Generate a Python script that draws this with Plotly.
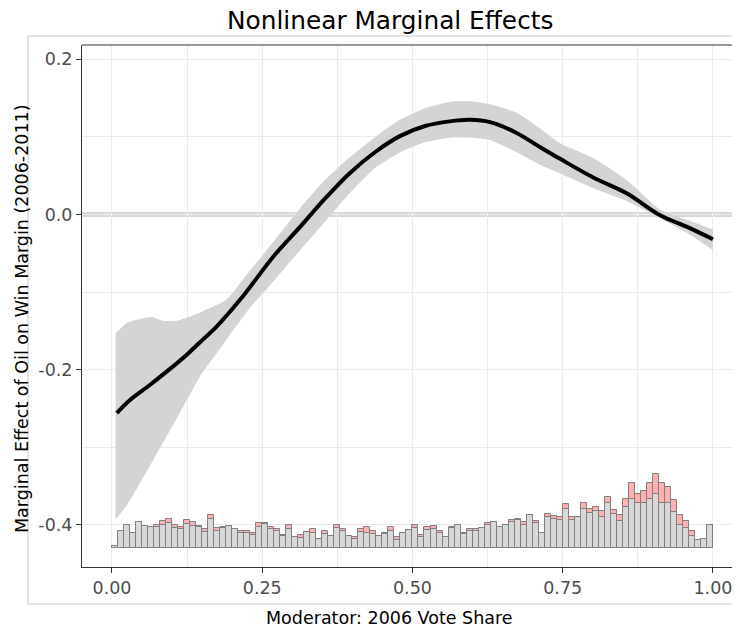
import plotly.graph_objects as go

# ---- data ----
x_line = [0.008, 0.03, 0.063, 0.095, 0.124, 0.146, 0.174, 0.213, 0.271, 0.313, 0.354, 0.396, 0.438,
          0.479, 0.521, 0.562, 0.596, 0.629, 0.671, 0.712, 0.745, 0.80, 0.857, 0.912, 0.957, 1.0]
effect = [-0.256, -0.239, -0.2197, -0.200, -0.181, -0.165, -0.1446, -0.110, -0.052, -0.016, 0.020,
          0.0535, 0.0805, 0.101, 0.114, 0.120, 0.122, 0.119, 0.106, 0.087, 0.072, 0.048, 0.027, -0.001,
          -0.016, -0.032]

x_band = [0.006, 0.027, 0.066, 0.085, 0.107, 0.127, 0.146, 0.19, 0.23, 0.271, 0.313, 0.354, 0.396, 0.438,
          0.479, 0.521, 0.562, 0.596, 0.629, 0.671, 0.712, 0.745, 0.80, 0.857, 0.912, 0.957, 1.0]
upper = [-0.153, -0.139, -0.132, -0.137, -0.137, -0.132, -0.1265, -0.110, -0.072, -0.033, 0.008, 0.044,
         0.074, 0.1, 0.122, 0.137, 0.145, 0.146, 0.142, 0.132, 0.111, 0.092, 0.073, 0.044, 0.006, -0.007,
         -0.019]
lower = [-0.393, -0.372, -0.32, -0.294, -0.264, -0.236, -0.209, -0.162, -0.12, -0.084, -0.046, -0.01,
         0.028, 0.06, 0.08, 0.093, 0.099, 0.099, 0.096, 0.081, 0.064, 0.053, 0.034, 0.017, -0.005, -0.024,
         -0.046]

bin_start = [i / 100 for i in range(100)]
count_control = [2, 16.7, 23, 14.7, 25.5, 22, 20.7, 20.7, 22.7, 24.7,
                 20, 18.7, 24, 22, 21, 16, 29, 16.7, 20, 22.3,
                 19.3, 14.7, 14.7, 12.7, 21.3, 23.5, 18.7, 16.7, 12, 18.7,
                 10.5, 10.2, 15.5, 15, 8.7, 14, 11.7, 20, 16.7, 11.5,
                 8.7, 16, 15, 13.7, 12, 14, 17, 8, 15, 18,
                 20, 10.7, 17.7, 19, 15.3, 11.3, 20.3, 22.8, 14.3, 16.7,
                 17.3, 20, 22.7, 26, 21.3, 23.3, 26, 28, 22.7, 32.7,
                 24.7, 15.3, 30.7, 29.3, 28, 38.7, 28, 30.7, 38.7, 34.7,
                 36.7, 31.3, 45.3, 34, 26.7, 40.7, 49.3, 44.7, 44.7, 49.3,
                 54, 44.7, 44.7, 36, 22.7, 20, 12, 8, 8.7, 23.3]
count_treated = [0, 0, 0, 0, 0, 0, 0, 2, 4, 4,
                 2.7, 2.6, 3.7, 4.3, 1, 2.7, 3.7, 3.3, 0.7, 0,
                 0, 2.6, 2.6, 2.6, 3.4, 1.8, 1.8, 2.6, 0.7, 4,
                 0, 3, 0, 3.5, 0, 2.7, 0, 2.7, 2.6, 0,
                 2.6, 3.3, 6.3, 3.5, 0, 1, 3.5, 2.7, 0, 0,
                 2.5, 2.6, 2.8, 2.8, 2, 0, 0.5, 0, 1, 2.6,
                 2, 0, 2.6, 0, 0, 0, 2, 0.5, 3.3, 0,
                 2, 0, 3.3, 2.7, 3.3, 5.3, 3.3, 0, 6, 4,
                 4.6, 5.4, 5.4, 4, 6, 8, 15.4, 9.3, 12.6, 16,
                 20, 20.6, 16.6, 12, 10.6, 6.7, 4.7, 0, 0, 0]

x_ticks = [0, 0.25, 0.5, 0.75, 1.0]
x_ticklabels = ["0.00", "0.25", "0.50", "0.75", "1.00"]
y_ticks = [-0.4, -0.2, 0.0, 0.2]
y_ticklabels = ["-0.4", "-0.2", "0.0", "0.2"]

# ---- histogram scaling (counts -> effect units) ----
hist_base = -0.4298
hist_unit = 1 / 776.0
bin_w = 0.01
centers = [b + bin_w / 2 for b in bin_start]
ctrl_h = [c * hist_unit for c in count_control]
trt_h = [t * hist_unit for t in count_treated]
trt_base = [hist_base + h for h in ctrl_h]

FONT = "DejaVu Sans"
fig = go.Figure()

# confidence band
fig.add_trace(go.Scatter(x=x_band, y=upper, mode="lines",
                         line=dict(width=0, color="rgba(0,0,0,0)", shape="spline", smoothing=0.6),
                         showlegend=False, hoverinfo="skip"))
fig.add_trace(go.Scatter(x=x_band, y=lower, mode="lines",
                         line=dict(width=0, color="rgba(0,0,0,0)", shape="spline", smoothing=0.6),
                         fill="tonexty", fillcolor="rgb(212,212,212)", showlegend=False, hoverinfo="skip"))
# effect line
fig.add_trace(go.Scatter(x=x_line, y=effect, mode="lines", line=dict(color="black", width=4, shape="spline"),
                         showlegend=False))

# histogram
fig.add_trace(go.Bar(x=centers, y=ctrl_h, base=[hist_base] * 100, width=bin_w,
                     marker=dict(color="rgb(216,216,216)", line=dict(color="rgb(128,128,128)", width=1)),
                     showlegend=False))
fig.add_trace(go.Bar(x=centers, y=trt_h, base=trt_base, width=bin_w,
                     marker=dict(color="rgb(255,176,176)", line=dict(color="rgb(128,128,128)", width=1)),
                     showlegend=False))

box_col = "rgb(200,200,200)"
shapes = [
    # zero line band
    dict(type="line", xref="paper", yref="y", x0=0, x1=1, y0=0, y1=0,
         line=dict(color="rgba(190,190,190,0.6)", width=5), layer="below"),
    # panel top border
    dict(type="line", xref="paper", yref="paper", x0=0, x1=1, y0=1, y1=1,
         line=dict(color="rgb(51,51,51)", width=1)),
    # outer plot box (left, top, bottom edges; right edge lies outside the view)
    dict(type="line", xref="paper", yref="paper", x0=-0.082, x1=-0.082, y0=-0.0709, y1=1.0172,
         line=dict(color=box_col, width=1), layer="below"),
    dict(type="line", xref="paper", yref="paper", x0=-0.082, x1=1.02, y0=1.0172, y1=1.0172,
         line=dict(color=box_col, width=1), layer="below"),
    dict(type="line", xref="paper", yref="paper", x0=-0.082, x1=1.02, y0=-0.0709, y1=-0.0709,
         line=dict(color=box_col, width=1), layer="below"),
]

annotations = [
    dict(text="Nonlinear Marginal Effects", xref="paper", yref="paper", x=0.468, y=1.046,
         xanchor="center", yanchor="middle", showarrow=False, font=dict(family=FONT, size=24.8, color="black")),
    dict(text="Moderator: 2006 Vote Share", xref="paper", yref="paper", x=0.468, y=-0.0977,
         xanchor="center", yanchor="middle", showarrow=False, font=dict(family=FONT, size=17.5, color="black")),
    dict(text="Marginal Effect of Oil on Win Margin (2006-2011)", xref="paper", yref="paper",
         x=-0.0912, y=0.477, textangle=-90, xanchor="center", yanchor="middle", showarrow=False,
         font=dict(family=FONT, size=17.5, color="black")),
]

# page body adds an 8px margin, so the figure is 8px smaller on each axis
fig.update_layout(
    width=732, height=623,
    margin=dict(l=74, r=0, t=37, b=64),
    paper_bgcolor="white", plot_bgcolor="white",
    barmode="overlay", bargap=0,
    font=dict(family=FONT),
    shapes=shapes, annotations=annotations,
    xaxis=dict(range=[-0.0499, 1.045], tickvals=x_ticks, ticktext=x_ticklabels, automargin=False,
               showgrid=True, gridcolor="rgb(235,235,235)", gridwidth=1,
               minor=dict(dtick=0.125, tick0=0, showgrid=True, gridcolor="rgb(235,235,235)", gridwidth=1),
               zeroline=False, showline=True, linecolor="rgb(51,51,51)", linewidth=1,
               ticks="outside", ticklen=5, tickcolor="rgb(51,51,51)", tickwidth=1,
               tickfont=dict(family=FONT, size=17.5, color="rgb(77,77,77)")),
    yaxis=dict(range=[-0.4543, 0.2184], tickvals=y_ticks, ticktext=y_ticklabels, automargin=False,
               showgrid=True, gridcolor="rgb(235,235,235)", gridwidth=1,
               minor=dict(dtick=0.1, tick0=0, showgrid=True, gridcolor="rgb(235,235,235)", gridwidth=1),
               zeroline=False, showline=True, linecolor="rgb(51,51,51)", linewidth=1,
               ticks="outside", ticklen=5, tickcolor="rgb(51,51,51)", tickwidth=1,
               tickfont=dict(family=FONT, size=17.5, color="rgb(77,77,77)")),
)

fig.write_html("out.html")
